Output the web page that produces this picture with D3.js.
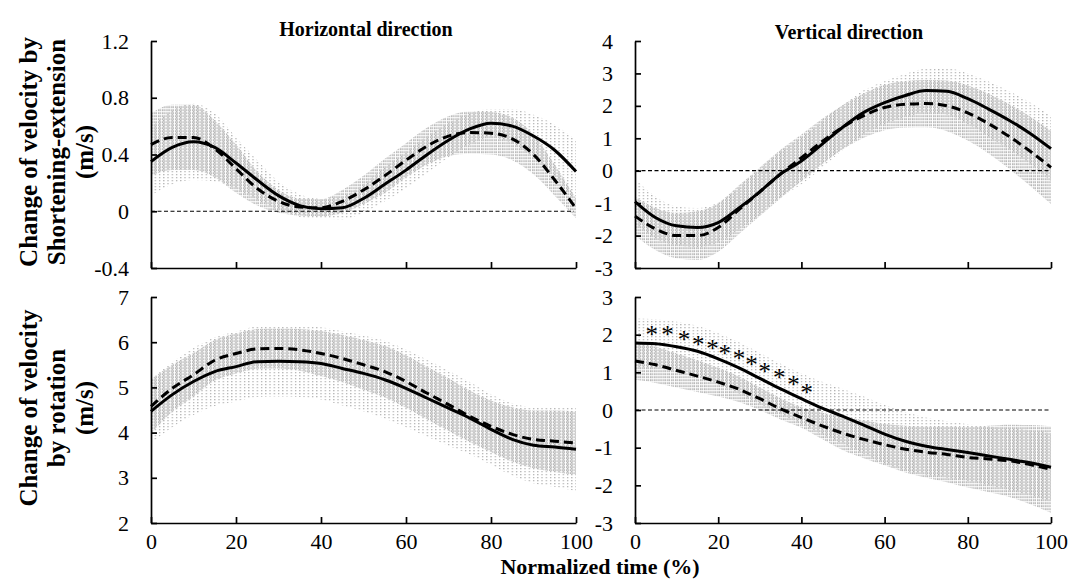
<!DOCTYPE html>
<html>
<head>
<meta charset="utf-8">
<script src="https://cdn.jsdelivr.net/npm/d3@7"></script>
<style>
body { margin: 0; background: #fff; }
text { font-family: "Liberation Serif", "Times New Roman", serif; fill: #000; }
</style>
</head>
<body>
<div id="chart"></div>
<script>
// normalized time points (%)
const timePts = [0, 5, 10, 15, 20, 25, 30, 35, 40, 45, 50, 55, 60, 65, 70, 75, 80, 85, 90, 95, 100];
const xTicks = [0, 20, 40, 60, 80, 100];

// horizontal, shortening-extension
const hsSolid    = [0.35, 0.45, 0.49, 0.45, 0.34, 0.22, 0.11, 0.04, 0.017, 0.024, 0.09, 0.19, 0.29, 0.40, 0.50, 0.58, 0.62, 0.60, 0.53, 0.43, 0.28];
const hsSolidSd  = [0.24, 0.26, 0.27, 0.24, 0.18, 0.14, 0.10, 0.08, 0.07, 0.08, 0.10, 0.12, 0.13, 0.13, 0.12, 0.11, 0.10, 0.12, 0.15, 0.18, 0.22];
const hsDashed   = [0.47, 0.52, 0.52, 0.44, 0.30, 0.16, 0.07, 0.03, 0.025, 0.07, 0.15, 0.25, 0.36, 0.46, 0.53, 0.555, 0.55, 0.51, 0.40, 0.22, 0.02];
const hsDashedSd = [0.22, 0.23, 0.23, 0.20, 0.17, 0.12, 0.08, 0.06, 0.06, 0.08, 0.10, 0.12, 0.12, 0.13, 0.14, 0.15, 0.15, 0.15, 0.14, 0.11, 0.07];

// vertical, shortening-extension
const vsSolid    = [-0.95, -1.45, -1.70, -1.75, -1.60, -1.15, -0.65, -0.10, 0.30, 0.82, 1.35, 1.80, 2.10, 2.32, 2.47, 2.45, 2.22, 1.90, 1.55, 1.15, 0.68];
const vsSolidSd  = [0.70, 0.65, 0.60, 0.60, 0.62, 0.65, 0.70, 0.72, 0.72, 0.72, 0.70, 0.68, 0.66, 0.66, 0.68, 0.72, 0.78, 0.85, 0.90, 0.95, 1.00];
const vsDashed   = [-1.40, -1.80, -2.00, -2.00, -1.75, -1.20, -0.65, -0.10, 0.40, 0.90, 1.35, 1.70, 1.95, 2.05, 2.07, 2.00, 1.78, 1.45, 1.05, 0.60, 0.10];
const vsDashedSd = [0.60, 0.65, 0.70, 0.75, 0.75, 0.75, 0.75, 0.75, 0.72, 0.70, 0.68, 0.68, 0.70, 0.72, 0.73, 0.78, 0.85, 0.92, 1.00, 1.07, 1.13];

// horizontal, rotation
const hrSolid    = [4.47, 4.84, 5.13, 5.35, 5.46, 5.57, 5.58, 5.57, 5.53, 5.42, 5.31, 5.17, 4.98, 4.76, 4.54, 4.32, 4.07, 3.85, 3.72, 3.68, 3.63];
const hrSolidSd  = [0.70, 0.72, 0.74, 0.76, 0.77, 0.78, 0.78, 0.78, 0.80, 0.82, 0.84, 0.86, 0.86, 0.85, 0.83, 0.80, 0.78, 0.80, 0.84, 0.88, 0.92];
const hrDashed   = [4.58, 4.98, 5.28, 5.60, 5.75, 5.85, 5.86, 5.83, 5.75, 5.64, 5.50, 5.35, 5.13, 4.87, 4.62, 4.36, 4.14, 3.96, 3.85, 3.81, 3.77];
const hrDashedSd = [0.60, 0.52, 0.48, 0.45, 0.44, 0.44, 0.44, 0.46, 0.50, 0.52, 0.55, 0.57, 0.58, 0.58, 0.58, 0.57, 0.57, 0.60, 0.64, 0.68, 0.70];

// vertical, rotation
const vrSolid    = [1.78, 1.76, 1.68, 1.56, 1.36, 1.12, 0.84, 0.56, 0.30, 0.05, -0.17, -0.40, -0.64, -0.83, -0.96, -1.05, -1.13, -1.22, -1.31, -1.40, -1.52];
const vrSolidSd  = [0.65, 0.65, 0.66, 0.67, 0.68, 0.68, 0.68, 0.67, 0.67, 0.70, 0.73, 0.76, 0.78, 0.78, 0.76, 0.75, 0.75, 0.78, 0.82, 0.86, 0.90];
const vrDashed   = [1.30, 1.20, 1.05, 0.90, 0.74, 0.55, 0.30, 0.03, -0.20, -0.42, -0.62, -0.78, -0.92, -1.04, -1.12, -1.18, -1.26, -1.30, -1.35, -1.45, -1.58];
const vrDashedSd = [0.50, 0.48, 0.45, 0.42, 0.38, 0.34, 0.30, 0.28, 0.27, 0.35, 0.45, 0.50, 0.55, 0.62, 0.68, 0.74, 0.80, 0.88, 0.96, 1.05, 1.15];

// significance marks (vertical, rotation)
const starTime  = [4.0, 7.8, 11.8, 15.2, 18.6, 21.6, 25.0, 28.0, 31.2, 34.7, 38.1, 41.3];
const starValue = [2.14, 2.14, 2.00, 1.88, 1.77, 1.63, 1.50, 1.35, 1.17, 0.99, 0.81, 0.60];

const hsTicks = [-0.4, 0, 0.4, 0.8, 1.2];
const vsTicks = [-3, -2, -1, 0, 1, 2, 3, 4];
const hrTicks = [2, 3, 4, 5, 6, 7];
const vrTicks = [-3, -2, -1, 0, 1, 2, 3];

const width = 1071, height = 579;
const serif = '"Liberation Serif", "Times New Roman", serif';

const svg = d3.select("#chart")
    .append("svg")
    .attr("width", width)
    .attr("height", height);

const defs = svg.append("defs");

const panels = [
    {id: "hs", x0: 151, x1: 576, y0: 41, y1: 268, dom: [-0.4, 1.2], ticks: hsTicks, fmt: d => d === 0 ? "0" : d.toFixed(1),
     solid: hsSolid, solidSd: hsSolidSd, dashed: hsDashed, dashedSd: hsDashedSd, zero: true, labels: false},
    {id: "vs", x0: 635, x1: 1051, y0: 41, y1: 268, dom: [-3, 4], ticks: vsTicks, fmt: d => String(d),
     solid: vsSolid, solidSd: vsSolidSd, dashed: vsDashed, dashedSd: vsDashedSd, zero: true, labels: false},
    {id: "hr", x0: 151, x1: 576, y0: 297, y1: 523, dom: [2, 7], ticks: hrTicks, fmt: d => String(d),
     solid: hrSolid, solidSd: hrSolidSd, dashed: hrDashed, dashedSd: hrDashedSd, zero: false, labels: true},
    {id: "vr", x0: 635, x1: 1051, y0: 297, y1: 523, dom: [-3, 3], ticks: vrTicks, fmt: d => String(d),
     solid: vrSolid, solidSd: vrSolidSd, dashed: vrDashed, dashedSd: vrDashedSd, zero: true, labels: true}
];

panels.forEach(p => {
    const x = d3.scaleLinear().domain([0, 100]).range([p.x0, p.x1]);
    const y = d3.scaleLinear().domain(p.dom).range([p.y1, p.y0]);
    const step = x(1) - x(0);

    // dotted fill patterns, one column of dots per 1% like the error bars
    const light = defs.append("pattern")
        .attr("id", p.id + "-light")
        .attr("patternUnits", "userSpaceOnUse")
        .attr("x", p.x0 - 0.6).attr("y", 0)
        .attr("width", step).attr("height", 3);
    light.append("rect").attr("width", 1.3).attr("height", 1.3).attr("fill", "#b3b3b3");

    const dark = defs.append("pattern")
        .attr("id", p.id + "-dark")
        .attr("patternUnits", "userSpaceOnUse")
        .attr("x", p.x0 - 1.6).attr("y", 1.5)
        .attr("width", step).attr("height", 3);
    dark.append("rect").attr("width", 1.3).attr("height", 1.3).attr("fill", "#8c8c8c");
    dark.append("rect").attr("x", 2).attr("width", 1.3).attr("height", 1.3).attr("fill", "#8c8c8c");

    const g = svg.append("g");

    const band = (mean, sd) => d3.area()
        .x((d, i) => x(timePts[i]))
        .y0((d, i) => y(mean[i] - sd[i]))
        .y1((d, i) => y(mean[i] + sd[i]))
        .curve(d3.curveMonotoneX)(mean);

    g.append("path").attr("d", band(p.solid, p.solidSd)).attr("fill", `url(#${p.id}-light)`);
    g.append("path").attr("d", band(p.dashed, p.dashedSd)).attr("fill", `url(#${p.id}-dark)`);

    if (p.zero) {
        g.append("line")
            .attr("x1", p.x0).attr("x2", p.x1 - 2)
            .attr("y1", y(0)).attr("y2", y(0))
            .attr("stroke", "#000").attr("stroke-width", 1.2)
            .attr("stroke-dasharray", "4,2.5");
    }

    const line = d3.line()
        .x((d, i) => x(timePts[i]))
        .y(d => y(d))
        .curve(d3.curveMonotoneX);

    g.append("path").attr("d", line(p.solid))
        .attr("fill", "none").attr("stroke", "#000").attr("stroke-width", 3);
    g.append("path").attr("d", line(p.dashed))
        .attr("fill", "none").attr("stroke", "#000").attr("stroke-width", 3)
        .attr("stroke-dasharray", "9,5");

    // axes with inner ticks
    const yAxis = g.append("g")
        .attr("transform", `translate(${p.x0},0)`)
        .call(d3.axisLeft(y).tickValues(p.ticks).tickFormat(p.fmt)
            .tickSizeInner(-6).tickSizeOuter(0).tickPadding(22));
    const xAxis = g.append("g")
        .attr("transform", `translate(0,${p.y1})`)
        .call(d3.axisBottom(x).tickValues(xTicks)
            .tickFormat(p.labels ? d => String(d) : "")
            .tickSizeInner(-6).tickSizeOuter(0).tickPadding(10));

    [yAxis, xAxis].forEach(a => {
        a.attr("font-family", serif).attr("font-size", 22);
        a.selectAll("path, line").attr("stroke", "#000").attr("stroke-width", 1.7);
        a.selectAll("text")
            .style("font-family", serif)
            .style("font-size", "22px").attr("fill", "#000");
    });

    if (p.id === "vr") {
        g.selectAll(".star")
            .data(starTime)
            .join("text")
            .attr("class", "star")
            .attr("x", d => x(d))
            .attr("y", (d, i) => y(starValue[i]))
            .attr("dy", "0.55em")
            .attr("text-anchor", "middle")
            .style("font-size", "25px")
            .text("*");
    }
});

// panel titles
svg.append("text").attr("x", 366).attr("y", 36).attr("text-anchor", "middle")
    .style("font-size", "20px").style("font-weight", "bold").text("Horizontal direction");
svg.append("text").attr("x", 849).attr("y", 39).attr("text-anchor", "middle")
    .style("font-size", "20px").style("font-weight", "bold").text("Vertical direction");

// y titles
function yTitle(lines, cy) {
    const xs = [28, 56, 84];
    lines.forEach((t, i) => {
        svg.append("text")
            .attr("transform", `translate(${xs[i]},${cy}) rotate(-90)`)
            .attr("text-anchor", "middle")
            .attr("dy", "0.35em")
            .style("font-size", "25px").style("font-weight", "bold")
            .text(t);
    });
}
yTitle(["Change of velocity by", "Shortening-extension", "(m/s)"], 152);
yTitle(["Change of velocity", "by  rotation", "(m/s)"], 408);

svg.append("text").attr("x", 600).attr("y", 574).attr("text-anchor", "middle")
    .style("font-size", "22px").style("font-weight", "bold").text("Normalized time (%)");
</script>
</body>
</html>
